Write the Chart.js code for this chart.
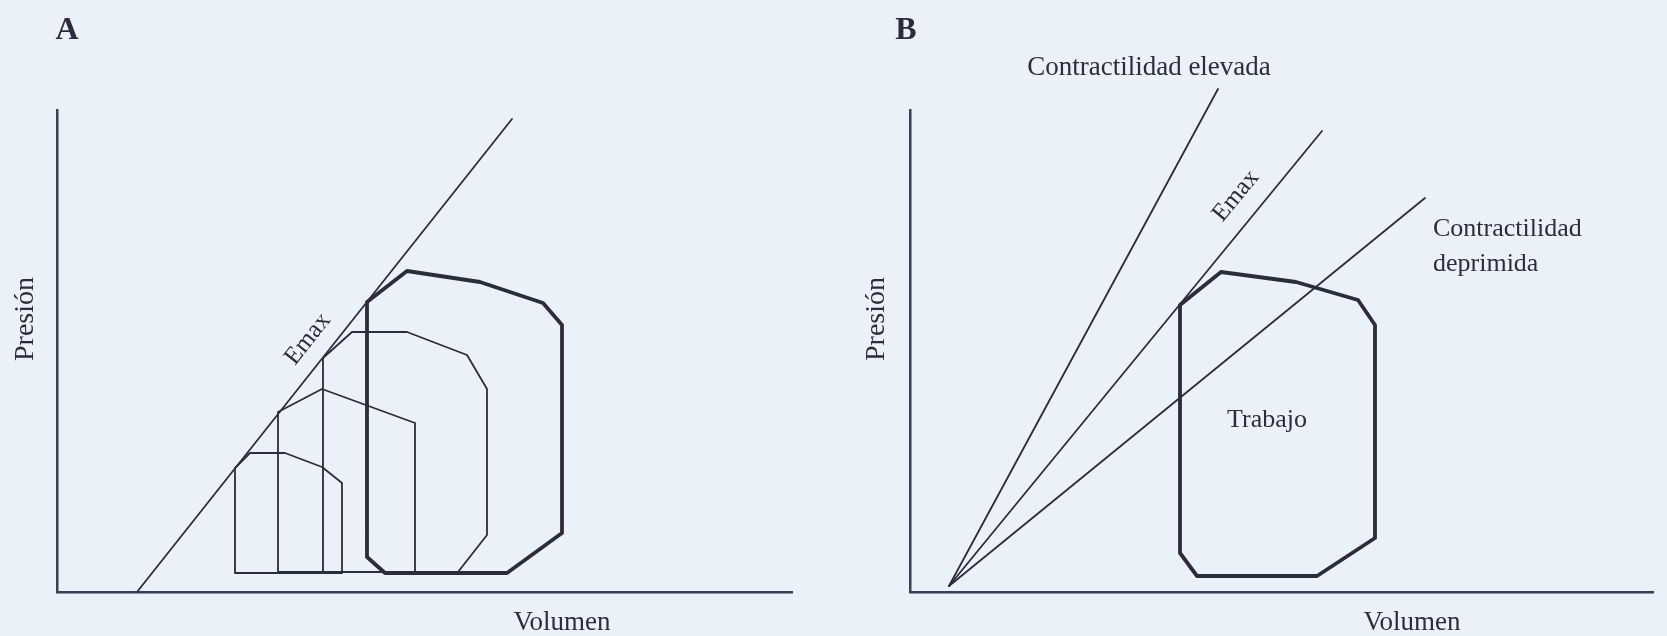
<!DOCTYPE html>
<html>
<head>
<meta charset="utf-8">
<script src="https://cdn.jsdelivr.net/npm/chart.js@4.4.1/dist/chart.umd.min.js"></script>
<style>
  html, body { margin: 0; padding: 0; background: #ebf1f8; }
  #panelA { position: absolute; left: 0; top: 0; }
  #panelB { position: absolute; left: 850px; top: 0; }
</style>
</head>
<body>
<canvas id="panelA" width="850" height="636"></canvas>
<canvas id="panelB" width="817" height="636"></canvas>
<script>
// PANEL A : bucles presion-volumen (volumen / presion, unidades arbitrarias)
const volA1 = [178, 178, 193, 228, 265, 285, 285, 178];
const presA1 = [19, 124, 139, 139, 125, 109, 19, 19];
const volA2 = [221, 221, 265, 358, 358, 221];
const presA2 = [20, 180, 203, 169, 20, 20];
const volA3 = [266, 266, 295, 350, 410, 430, 430, 401, 266];
const presA3 = [20, 234, 260, 260, 237, 203, 57, 20, 20];
const volA4 = [310, 310, 350, 423, 486, 505, 505, 450, 328, 310];
const presA4 = [35, 290, 321, 310, 289, 267, 59, 19, 19, 35];
const emaxVolA = [80, 455];
const emaxPresA = [0, 473];

// PANEL B : rectas de contractilidad y bucle de trabajo
const elevadaVol = [39, 308];
const elevadaPres = [6, 503];
const emaxVolB = [39, 412];
const emaxPresB = [6, 461];
const deprimidaVol = [39, 515];
const deprimidaPres = [6, 394];
const volB = [270, 270, 311, 386, 448, 465, 465, 407, 287, 270];
const presB = [39, 287, 320, 310, 292, 267, 54, 16, 16, 39];

const INK = '#2b2d3c';

function puntos(vols, press) {
    return vols.map((v, i) => ({ x: v, y: press[i] }));
}

function serie(vols, press, grueso) {
    return {
        data: puntos(vols, press),
        showLine: true,
        borderColor: INK,
        borderWidth: grueso ? 3.8 : 1.8,
        borderJoinStyle: 'round',
        borderCapStyle: 'round',
        pointRadius: 0,
        tension: 0,
        clip: false,
    };
}

// textos dibujados en coordenadas de los ejes
const textos = {
    id: 'textos',
    afterDatasetsDraw(chart, args, opts) {
        const ctx = chart.ctx;
        const xs = chart.scales.x, ys = chart.scales.y;
        (opts.items || []).forEach(it => {
            ctx.save();
            ctx.translate(xs.getPixelForValue(it.v), ys.getPixelForValue(it.p));
            if (it.angle) ctx.rotate(it.angle * Math.PI / 180);
            ctx.font = (it.bold ? 'bold ' : '') + it.size + 'px "Liberation Serif", "DejaVu Serif", serif';
            ctx.fillStyle = INK;
            ctx.textAlign = it.align || 'center';
            ctx.textBaseline = 'middle';
            ctx.fillText(it.text, 0, 0);
            ctx.restore();
        });
    }
};

function ejes(xmax, ymax) {
    const comun = {
        type: 'linear',
        min: 0,
        ticks: { display: false },
        grid: { display: false, drawTicks: false },
        border: { display: true, color: '#374059', width: 2.5 },
    };
    return {
        x: Object.assign({}, comun, { max: xmax }),
        y: Object.assign({}, comun, { max: ymax }),
    };
}

function creationPanel(id, datasets, xmax, ymax, padding, items) {
    new Chart(document.getElementById(id), {
        type: 'scatter',
        data: { datasets: datasets },
        options: {
            responsive: false,
            animation: false,
            devicePixelRatio: 1,
            layout: { padding: padding },
            scales: ejes(xmax, ymax),
            plugins: {
                legend: { display: false },
                tooltip: { enabled: false },
                textos: { items: items },
            },
        },
        plugins: [textos],
    });
}

creationPanel('panelA', [
    serie(emaxVolA, emaxPresA, false),
    serie(volA1, presA1, false),
    serie(volA2, presA2, false),
    serie(volA3, presA3, false),
    serie(volA4, presA4, true),
], 735, 482, { left: 57, right: 58, top: 110, bottom: 44 }, [
    { text: 'A', v: 10, p: 561, size: 32, bold: true },
    { text: 'Presión', v: -31, p: 273, size: 28, angle: -90 },
    { text: 'Volumen', v: 505, p: -31, size: 27 },
    { text: 'Emax', v: 251, p: 253, size: 25, angle: -51.6 },
]);

creationPanel('panelB', [
    serie(elevadaVol, elevadaPres, false),
    serie(emaxVolB, emaxPresB, false),
    serie(deprimidaVol, deprimidaPres, false),
    serie(volB, presB, true),
], 743, 482, { left: 60, right: 14, top: 110, bottom: 44 }, [
    { text: 'B', v: -4, p: 561, size: 32, bold: true },
    { text: 'Presión', v: -33, p: 273, size: 28, angle: -90 },
    { text: 'Volumen', v: 502, p: -31, size: 27 },
    { text: 'Contractilidad elevada', v: 239, p: 524, size: 27 },
    { text: 'Emax', v: 326, p: 396, size: 25, angle: -50.7 },
    { text: 'Contractilidad', v: 523, p: 363, size: 26, align: 'left' },
    { text: 'deprimida', v: 523, p: 328, size: 26, align: 'left' },
    { text: 'Trabajo', v: 357, p: 172, size: 26 },
]);
</script>
</body>
</html>
